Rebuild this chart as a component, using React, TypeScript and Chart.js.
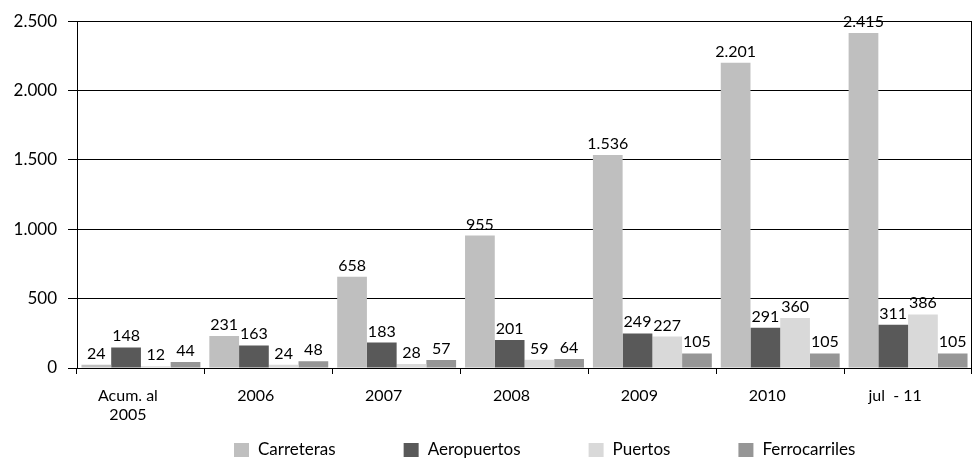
import React, { useEffect, useRef } from "react";
import { Chart, registerables } from "chart.js";

Chart.register(...registerables);

const categories: (string | string[])[] = [["Acum. al", "2005"], "2006", "2007", "2008", "2009", "2010", "jul  - 11"];
const seriesNames = ["Carreteras", "Aeropuertos", "Puertos", "Ferrocarriles"];
const carreteras = [24, 231, 658, 955, 1536, 2201, 2415];
const aeropuertos = [148, 163, 183, 201, 249, 291, 311];
const puertos = [12, 24, 28, 59, 227, 360, 386];
const ferrocarriles = [44, 48, 57, 64, 105, 105, 105];
const yTicks = [0, 500, 1000, 1500, 2000, 2500];
const colors = ["#bfbfbf", "#595959", "#d9d9d9", "#969696"];

const FONT = "Lato, 'Open Sans', sans-serif";

const fmt = (v: number) => v.toString().replace(/\B(?=(\d{3})+(?!\d))/g, ".");

const labelPlugin = {
  id: "barLabels",
  afterDatasetsDraw(chart: any) {
    const ctx = chart.ctx;
    ctx.save();
    ctx.font = `16px ${FONT}`;
    ctx.fillStyle = "#000";
    ctx.textAlign = "center";
    ctx.textBaseline = "alphabetic";
    chart.data.datasets.forEach((ds: any, i: number) => {
      const meta = chart.getDatasetMeta(i);
      meta.data.forEach((el: any, j: number) => {
        ctx.fillText(fmt(ds.data[j]), el.x, el.y - 6);
      });
    });
    ctx.restore();
  },
};

const frameAndLegendPlugin = {
  id: "frameAndLegend",
  afterDraw(chart: any) {
    const ctx = chart.ctx;
    const a = chart.chartArea;
    ctx.save();
    ctx.strokeStyle = "#000";
    ctx.lineWidth = 1;
    ctx.beginPath();
    ctx.moveTo(Math.round(a.right) - 0.5, a.top);
    ctx.lineTo(Math.round(a.right) - 0.5, a.bottom + 6);
    ctx.stroke();

    ctx.font = `17px ${FONT}`;
    ctx.textBaseline = "middle";
    ctx.textAlign = "left";
    const cy = 450;
    let x = 234;
    chart.data.datasets.forEach((ds: any) => {
      ctx.fillStyle = ds.backgroundColor;
      ctx.fillRect(x, cy - 7, 15, 14);
      ctx.fillStyle = "#000";
      ctx.fillText(ds.label, x + 24, cy);
      x += 24 + ctx.measureText(ds.label).width + 68;
    });
    ctx.restore();
  },
};

export default function App() {
  const ref = useRef<HTMLCanvasElement>(null);
  useEffect(() => {
    document.body.style.margin = "0";
    const chart = new Chart(ref.current!, {
      type: "bar",
      data: {
        labels: categories,
        datasets: [
          { label: seriesNames[0], data: carreteras, backgroundColor: colors[0] },
          { label: seriesNames[1], data: aeropuertos, backgroundColor: colors[1] },
          { label: seriesNames[2], data: puertos, backgroundColor: colors[2] },
          { label: seriesNames[3], data: ferrocarriles, backgroundColor: colors[3] },
        ],
      },
      options: {
        animation: false,
        responsive: false,
        layout: { padding: { top: 17, right: 0, left: 0, bottom: 34 } },
        datasets: { bar: { categoryPercentage: 0.93, barPercentage: 1 } },
        plugins: {
          legend: { display: false },
          tooltip: { enabled: false },
        },
        scales: {
          x: {
            afterFit: (s: any) => {
              s.height = 60;
            },
            grid: {
              display: true,
              drawOnChartArea: false,
              drawTicks: true,
              tickLength: 6,
              color: "#000",
              offset: true,
            },
            border: { color: "#000" },
            ticks: {
              color: "#000",
              font: { family: FONT, size: 16 },
              padding: 12,
              maxRotation: 0,
              labelOffset: -13,
            },
          },
          y: {
            min: 0,
            max: 2500,
            afterBuildTicks: (s: any) => {
              s.ticks = yTicks.map((v) => ({ value: v }));
            },
            afterFit: (s: any) => {
              s.width = 77;
            },
            grid: { color: "#000", tickLength: 9, drawTicks: true },
            border: { color: "#000" },
            ticks: {
              color: "#000",
              font: { family: FONT, size: 17 },
              padding: 11,
              callback: (v: any) => fmt(Number(v)),
            },
          },
        },
      },
      plugins: [labelPlugin, frameAndLegendPlugin],
    });
    return () => chart.destroy();
  }, []);
  return <canvas ref={ref} width={972} height={462} style={{ display: "block" }} />;
}
